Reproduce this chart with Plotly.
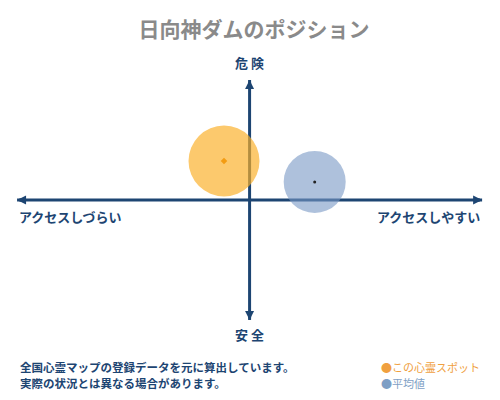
import plotly.graph_objects as go

# chart data
title_text = "日向神ダムのポジション"
axis_labels = {"top": "危 険", "bottom": "安 全",
               "left": "アクセスしづらい", "right": "アクセスしやすい"}
series_names = ["この心霊スポット", "平均値"]
access_values = [-0.11, 0.28]    # x: access (left = hard, right = easy)
danger_values = [0.325, 0.15]    # y: danger (up = dangerous)
notes = ["全国心霊マップの登録データを元に算出しています。",
         "実際の状況とは異なる場合があります。"]

AXIS_LIM = 1.0
FONT = "Noto Sans CJK JP"
NAVY = "#1d4572"

fig = go.Figure()

# axes (drawn as lines under the circles)
fig.add_trace(go.Scatter(x=[-AXIS_LIM, AXIS_LIM], y=[0, 0], mode="lines",
                         line=dict(color=NAVY, width=3), hoverinfo="skip"))
fig.add_trace(go.Scatter(x=[0, 0], y=[-AXIS_LIM, AXIS_LIM], mode="lines",
                         line=dict(color=NAVY, width=3), hoverinfo="skip"))

# circles
fig.add_trace(go.Scatter(
    x=[access_values[0]], y=[danger_values[0]], mode="markers",
    marker=dict(size=71, color="rgba(250,176,40,0.68)", line=dict(width=0)),
    hoverinfo="skip"))
fig.add_trace(go.Scatter(
    x=[access_values[1]], y=[danger_values[1]], mode="markers",
    marker=dict(size=62, color="rgba(120,152,196,0.6)", line=dict(width=0)),
    hoverinfo="skip"))
# center dots
fig.add_trace(go.Scatter(
    x=[access_values[0]], y=[danger_values[0]], mode="markers",
    marker=dict(size=5, symbol="diamond", color="#f39c12"), hoverinfo="skip"))
fig.add_trace(go.Scatter(
    x=[access_values[1]], y=[danger_values[1]], mode="markers",
    marker=dict(size=3, color="#222222"), hoverinfo="skip"))

# arrow heads
arrow_ends = [(AXIS_LIM, 0, 0.97 * AXIS_LIM, 0), (-AXIS_LIM, 0, -0.97 * AXIS_LIM, 0),
              (0, AXIS_LIM, 0, 0.94 * AXIS_LIM), (0, -AXIS_LIM, 0, -0.94 * AXIS_LIM)]
annotations = []
for x, y, ax, ay in arrow_ends:
    annotations.append(dict(
        x=x, y=y, ax=ax, ay=ay, xref="x", yref="y", axref="x", ayref="y",
        text="", showarrow=True, arrowhead=2, arrowsize=0.6, arrowwidth=3,
        arrowcolor=NAVY))

label_font = dict(family=FONT, size=13, color=NAVY, weight="bold")
annotations += [
    dict(x=0, y=AXIS_LIM, yshift=6, text=axis_labels["top"], showarrow=False,
         font=dict(family=FONT, size=13, color=NAVY, weight="bold"),
         yanchor="bottom"),
    dict(x=0, y=-AXIS_LIM, yshift=-3, text=axis_labels["bottom"], showarrow=False,
         font=dict(family=FONT, size=13, color=NAVY, weight="bold"),
         yanchor="top"),
    dict(x=-AXIS_LIM, y=0, yshift=-5, text=axis_labels["left"], showarrow=False,
         font=label_font, xanchor="left", yanchor="top"),
    dict(x=AXIS_LIM, y=0, yshift=-5, text=axis_labels["right"], showarrow=False,
         font=label_font, xanchor="right", yanchor="top"),
]

# footnotes
for i, note in enumerate(notes):
    annotations.append(dict(
        x=0.02, y=0.084 - i * 0.041, xref="paper", yref="paper", text=note,
        showarrow=False, xanchor="left", yanchor="middle",
        font=dict(family=FONT, size=11.5, color=NAVY, weight="bold")))

# legend-like notes
legend_colors = ["#f0a040", "#7f9fc5"]
for i, (name, c) in enumerate(zip(series_names, legend_colors)):
    annotations.append(dict(
        x=0.754, y=0.084 - i * 0.041, xref="paper", yref="paper",
        text=f"<span style='color:{c}'>●</span>{name}",
        showarrow=False, xanchor="left", yanchor="middle",
        font=dict(family=FONT, size=11, color=c)))

fig.update_layout(
    width=492, height=392, autosize=False,
    margin=dict(l=0, r=0, t=0, b=0),
    paper_bgcolor="white", plot_bgcolor="white",
    showlegend=False,
    title=dict(text=title_text, x=0.5, y=0.944, xanchor="center", yanchor="middle",
               font=dict(family=FONT, size=21, color="#8a8a8a", weight="bold")),
    xaxis=dict(range=[-1.039, 1.077], visible=False, fixedrange=True),
    yaxis=dict(range=[-1.667, 1.6], visible=False, fixedrange=True),
    annotations=annotations,
)

fig.write_html("out.html")
